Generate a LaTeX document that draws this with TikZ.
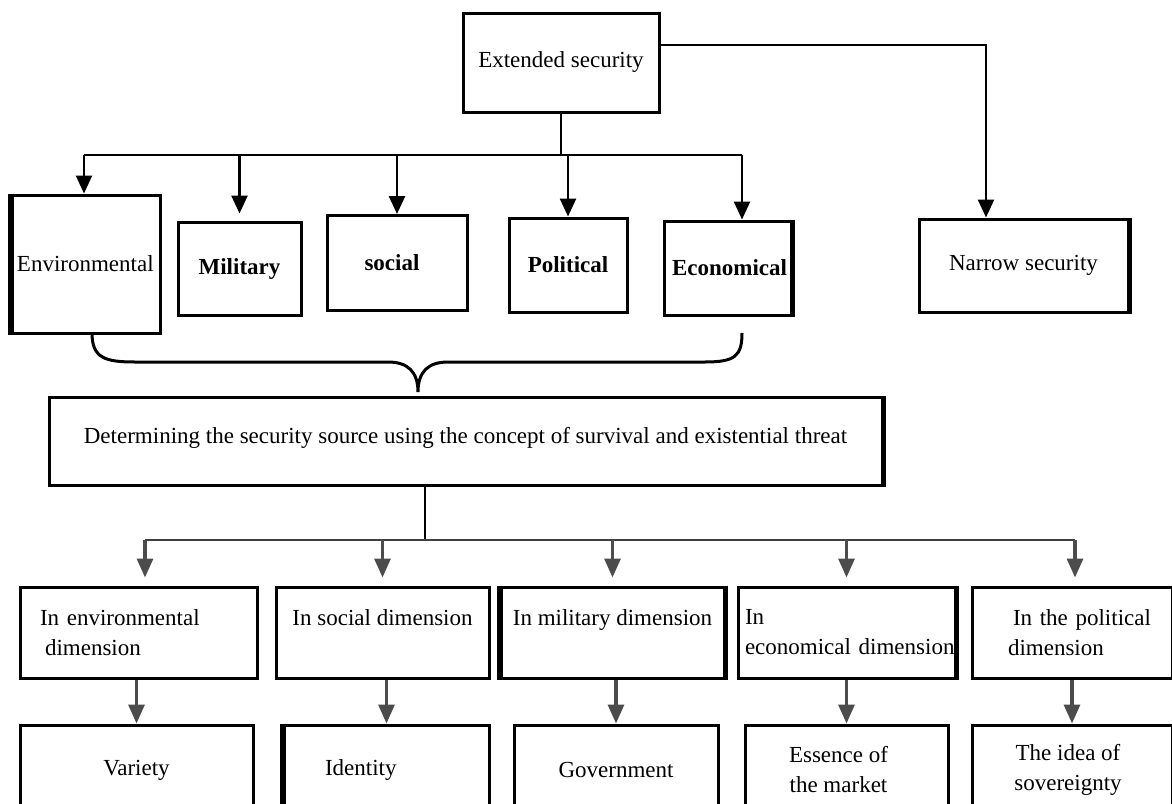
\documentclass[tikz,border=0pt]{standalone}
\usepackage{fontspec}
\setmainfont{Liberation Serif}
\usetikzlibrary{arrows.meta,positioning}

\tikzset{
  box/.style={draw, line width=3pt, inner sep=0pt, align=center},
  bold/.style={font=\fontsize{23}{27}\selectfont\bfseries},
  blk/.style={line width=2.6pt, -{Triangle[length=18pt,width=16pt]}},
  gry/.style={draw=black!70, line width=3.2pt, -{Triangle[length=19pt,width=16pt]}},
  edge/.style={line width=5.5pt}
}

\begin{document}
\begin{tikzpicture}[x=1pt,y=-1pt,font=\fontsize{23}{30}\selectfont]
\useasboundingbox (0,0) rectangle (1172,803);
\clip (0,0) rectangle (1172,803);

% upper part
\node[box, minimum width=196, minimum height=99] (ext) at (561,62.5) {Extended security};
\node[box, minimum height=138, text width=148, align=left] (env) at (86,264) {\hspace*{5pt}\mbox{Environmental}};
\node[box, bold, minimum width=123, minimum height=93] (mil) at (239.5,268.5) {Military};
\node[box, bold, minimum width=140, minimum height=95] (soc) at (397,263) {\hspace*{-10pt}social};
\node[box, bold, minimum width=118, minimum height=94] (pol) at (568,265) {Political};
\node[box, bold, minimum height=94, text width=127, align=left] (eco) at (727.5,268) {\hspace*{8pt}\mbox{Economical}};
\node[box, minimum width=209, minimum height=93] (nar) at (1023.5,265.5) {Narrow security};

\draw[edge] (env.north west) -- (env.south west);
\draw[edge] (eco.north east) -- (eco.south east);
\draw[edge] (nar.north east) -- (nar.south east);

\coordinate (busL) at (84,155);
\coordinate (busR) at (742,155);
\coordinate (narK) at (986,45);
\draw[line width=2.6pt] (ext.south |- busL) -- (ext.south);
\draw[line width=2.6pt] (busL) -- (busR);
\draw[blk] (busL) -- (busL |- env.north);
\draw[blk] (mil.north |- busL) -- ([yshift=7pt]mil.north);
\draw[blk] (soc.north |- busL) -- (soc.north);
\draw[blk] (pol.north |- busL) -- (pol.north);
\draw[blk] (busR) -- (busR |- eco.north);
\draw[blk] (ext.north east |- narK) -- (narK) -- (narK |- nar.north);

% brace
\draw[line width=3pt] (92,333) .. controls (92,358) and (105,362) .. (135,362)
  -- (388,362) .. controls (408,362) and (418,372) .. (418,392)
  .. controls (418,372) and (428,362) .. (448,362)
  -- (705,362) .. controls (735,362) and (742,356) .. (742,333);

% middle box
\node[box, minimum width=833, minimum height=88] (det) at (465.5,441) {Determining the security source using the concept of survival and existential threat\\[-19pt]\mbox{}};
\draw[edge] (det.north east) -- (det.south east);

% dimensions
\node[box, minimum height=91, text width=237, align=left] (r1env) at (138.5,632.5) {\hspace*{20pt}In environmental\\\hspace*{25pt}dimension};
\node[box, minimum width=213, minimum height=91] (r1soc) at (382.5,632.5) {In social dimension\\\mbox{}};
\node[box, minimum width=223, minimum height=91] (r1mil) at (612.5,632.5) {In military dimension\\\mbox{}};
\node[box, minimum height=91, text width=217, align=left] (r1eco) at (846.5,632.5) {\hspace*{7pt}In\\\hspace*{7pt}\mbox{economical dimension}};
\node[box, minimum height=91, text width=200, align=left] (r1pol) at (1072,632.5) {\hspace*{41pt}In the political\\\hspace*{36pt}dimension};

\draw[edge] (r1mil.north west) -- (r1mil.south west);
\draw[edge] (r1mil.north east) -- (r1mil.south east);
\draw[edge] (r1eco.north east) -- (r1eco.south east);

% sources
\node[box, minimum width=233, minimum height=90] (r2var) at (136.5,770) {Variety};
\node[box, minimum height=90, text width=205, align=left] (r2ide) at (386.5,770) {\hspace*{41pt}Identity};
\node[box, minimum width=204, minimum height=90] (r2gov) at (616,770) {Government};
\node[box, minimum width=203, minimum height=90] (r2ess) at (846.5,770) {\hspace*{-16pt}Essence of\\\hspace*{-16pt}the market};
\node[box, minimum width=200, minimum height=90] (r2sov) at (1072,770) {\hspace*{-8pt}The idea of\\\hspace*{-8pt}sovereignty};

\draw[edge] (r2ide.north west) -- (r2ide.south west);

\coordinate (bbT) at (425,540);
\coordinate (bbL) at (145,540);
\coordinate (bbR) at (1075,540);
\draw[line width=1.6pt] (det.south -| bbT) -- (bbT);
\draw[draw=black!75, line width=2.6pt] (bbL) -- (bbR);
\draw[gry] (bbL) -- ([yshift=8pt]bbL |- r1env.north);
\draw[gry] (r1soc.north |- bbL) -- ([yshift=8pt]r1soc.north);
\draw[gry] (r1mil.north |- bbL) -- ([yshift=8pt]r1mil.north);
\draw[gry] (r1eco.north |- bbL) -- ([yshift=8pt]r1eco.north);
\draw[gry] (bbR) -- ([yshift=8pt]bbR |- r1pol.north);
\foreach \a/\b in {r1env/r2var, r1soc/r2ide, r1mil/r2gov, r1eco/r2ess, r1pol/r2sov}
  \draw[gry] (\b.north |- \a.south) -- (\b.north);
\end{tikzpicture}
\end{document}
